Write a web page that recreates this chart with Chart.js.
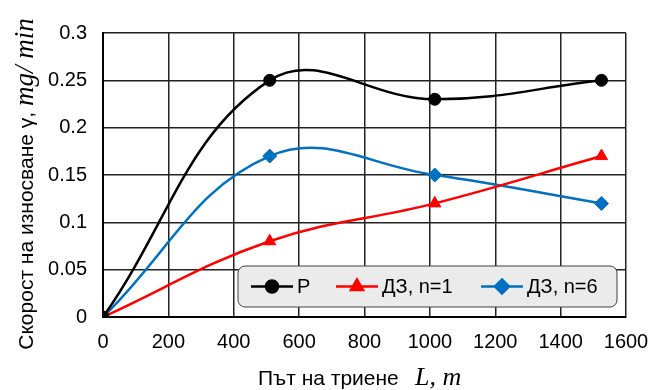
<!DOCTYPE html>
<html>
<head>
<meta charset="utf-8">
<script src="https://cdn.jsdelivr.net/npm/chart.js@4.4.1/dist/chart.umd.min.js"></script>
<style>
  html, body { margin: 0; padding: 0; background: #fff; }
  #wrap { width: 651px; height: 390px; position: relative; }
</style>
</head>
<body>
<div id="wrap"><canvas id="wear-chart" width="651" height="390"></canvas></div>
<script>
// friction distance L, m
const distances = [0, 510, 1015, 1525];
// wear rate, mg/min
const wearP = [0, 0.25, 0.23, 0.25];
const wearN1 = [0, 0.08, 0.12, 0.17];
const wearN6 = [0, 0.17, 0.15, 0.12];
const seriesNames = ['P', 'ДЗ, n=1', 'ДЗ, n=6'];
const xTicks = [0, 200, 400, 600, 800, 1000, 1200, 1400, 1600];
const yTicks = [0, 0.05, 0.1, 0.15, 0.2, 0.25, 0.3];

const sans = '"Liberation Sans", Arial, sans-serif';
const serif = '"Liberation Serif", "Times New Roman", serif';

function toPoints(ys) {
    return distances.map((x, i) => ({ x: x, y: ys[i] }));
}

// draws the axis titles (mixed fonts) and the boxed legend inside the plot
const decorations = {
    id: 'decorations',
    afterDraw(chart) {
        const ctx = chart.ctx;
        const area = chart.chartArea;
        ctx.save();

        // y axis title
        ctx.translate(26, 184);
        ctx.rotate(-Math.PI / 2);
        ctx.textBaseline = 'middle';
        const part1 = 'Скорост на износване γ, ';
        const part2 = 'mg/ min';
        ctx.font = '21px ' + sans;
        const w1 = ctx.measureText(part1).width;
        ctx.font = 'italic 27px ' + serif;
        const w2 = ctx.measureText(part2).width;
        let sx = -(w1 + w2) / 2;
        ctx.font = '21px ' + sans;
        ctx.fillStyle = '#000';
        ctx.fillText(part1, sx, 1);
        ctx.font = 'italic 27px ' + serif;
        ctx.fillText(part2, sx + w1, 0);
        ctx.restore();

        // x axis title
        ctx.save();
        ctx.textBaseline = 'middle';
        const t1 = 'Път на триене';
        const t2 = 'L, m';
        ctx.fillStyle = '#000';
        ctx.font = '21px ' + sans;
        ctx.fillText(t1, 258, 379);
        ctx.font = 'italic 26px ' + serif;
        ctx.fillText(t2, 415, 378);
        ctx.restore();

        // legend box
        ctx.save();
        const bx = area.right - 388, by = area.bottom - 51, bw = 379, bh = 41;
        ctx.beginPath();
        ctx.roundRect(bx, by, bw, bh, 7);
        ctx.fillStyle = '#ebebeb';
        ctx.fill();
        ctx.lineWidth = 1;
        ctx.strokeStyle = '#404040';
        ctx.stroke();

        const cy = by + bh / 2;
        const starts = [bx + 13, bx + 98, bx + 243];
        ctx.font = '20px ' + sans;
        ctx.textBaseline = 'middle';
        chart.data.datasets.forEach((ds, i) => {
            const x0 = starts[i];
            ctx.beginPath();
            ctx.moveTo(x0, cy);
            ctx.lineTo(x0 + 42, cy);
            ctx.strokeStyle = ds.borderColor;
            ctx.lineWidth = 2.5;
            ctx.stroke();
            Chart.helpers.drawPoint(ctx, {
                pointStyle: ds.pointStyle,
                radius: ds.pointRadius,
                rotation: 0,
                borderWidth: 1
            }, x0 + 21, cy);
            ctx.fillStyle = ds.borderColor;
            ctx.fill();
            ctx.fillStyle = '#000';
            ctx.fillText(ds.label, x0 + 46, cy + 1);
        });
        ctx.restore();
    }
};

const ctx = document.getElementById('wear-chart').getContext('2d');
const wearChart = new Chart(ctx, {
    type: 'line',
    data: {
        datasets: [{
            label: seriesNames[0],
            data: toPoints(wearP),
            borderColor: '#000000',
            backgroundColor: '#000000',
            pointStyle: 'circle',
            pointRadius: 6
        }, {
            label: seriesNames[1],
            data: toPoints(wearN1),
            borderColor: '#ff0000',
            backgroundColor: '#ff0000',
            pointStyle: 'triangle',
            pointRadius: 7
        }, {
            label: seriesNames[2],
            data: toPoints(wearN6),
            borderColor: '#0070c0',
            backgroundColor: '#0070c0',
            pointStyle: 'rectRot',
            pointRadius: 7
        }]
    },
    options: {
        responsive: false,
        animation: false,
        layout: {
            padding: { left: 0, right: 25, top: 33, bottom: 0 }
        },
        elements: {
            line: { borderWidth: 2.5, tension: 0.4, fill: false },
            point: { borderWidth: 1, hoverRadius: 6 }
        },
        plugins: {
            legend: { display: false },
            tooltip: { enabled: false }
        },
        scales: {
            x: {
                type: 'linear',
                min: 0,
                max: 1600,
                afterBuildTicks: (scale) => { scale.ticks = xTicks.map(v => ({ value: v })); },
                afterFit: (scale) => {
                    scale.height = 73;
                    scale.paddingLeft = 0;
                    scale.paddingRight = 0;
                },
                ticks: {
                    color: '#000',
                    font: { family: sans, size: 20 },
                    padding: 13,
                    maxRotation: 0,
                    callback: (v) => String(v)
                },
                grid: { color: '#222', lineWidth: 1.5, drawTicks: false },
                border: { color: '#000', width: 2 }
            },
            y: {
                min: 0,
                max: 0.3,
                afterBuildTicks: (scale) => { scale.ticks = yTicks.map(v => ({ value: v })); },
                afterFit: (scale) => {
                    scale.width = 103;
                    scale.paddingTop = 0;
                    scale.paddingBottom = 0;
                },
                ticks: {
                    color: '#000',
                    font: { family: sans, size: 20 },
                    padding: 16,
                    callback: (v) => String(Math.round(v * 100) / 100)
                },
                grid: { color: '#222', lineWidth: 1.5, drawTicks: false },
                border: { color: '#000', width: 2 }
            }
        }
    },
    plugins: [decorations]
});
</script>
</body>
</html>
